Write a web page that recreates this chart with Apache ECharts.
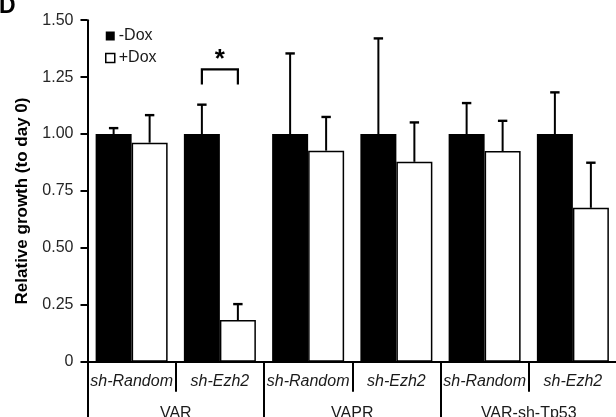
<!DOCTYPE html>
<html>
<head>
<meta charset="utf-8">
<script src="https://cdn.jsdelivr.net/npm/echarts@6/dist/echarts.min.js"></script>
<style>
html,body{margin:0;padding:0;background:#fff;}
#c{width:616px;height:417px;}
</style>
</head>
<body>
<div id="c"></div>
<script>
// ---- data ----
const subCategories = ['sh-Random', 'sh-Ezh2', 'sh-Random', 'sh-Ezh2', 'sh-Random', 'sh-Ezh2'];
const groupCategories = ['VAR', 'VAPR', 'VAR-sh-Tp53'];
const minusDoxMean = [1.00, 1.00, 1.00, 1.00, 1.00, 1.00];
const minusDoxErr  = [0.026, 0.129, 0.354, 0.420, 0.136, 0.183];
const plusDoxMean  = [0.962, 0.183, 0.927, 0.878, 0.925, 0.676];
const plusDoxErr   = [0.121, 0.070, 0.148, 0.173, 0.133, 0.198];
const yTicks = [0, 0.25, 0.5, 0.75, 1.0, 1.25, 1.5];
// significance bracket: category index, bracket top value, leg bottom value, star value
const significance = [[1, 1.284, 1.218, 1.325]];

const FONT = '"Liberation Sans", Arial, sans-serif';
const chart = echarts.init(document.getElementById('c'), null, {renderer: 'canvas'});

function errRender(offset) {
  return function (params, api) {
    const c = api.value(0), m = api.value(1), s = api.value(2);
    const p0 = api.coord([c, m]);
    const p1 = api.coord([c, m + s]);
    const x = p0[0] + offset;
    return {
      type: 'group',
      children: [
        {type: 'line', shape: {x1: x, y1: p0[1], x2: x, y2: p1[1]}, style: {stroke: '#000', lineWidth: 2}},
        {type: 'line', shape: {x1: x - 4.7, y1: p1[1], x2: x + 4.7, y2: p1[1]}, style: {stroke: '#000', lineWidth: 2.4}}
      ]
    };
  };
}

const option = {
  animation: false,
  backgroundColor: '#fff',
  grid: {left: 87.5, top: 20.2, width: 529.5, bottom: 55.3, containLabel: false, outerBoundsMode: 'none'},
  legend: {
    orient: 'vertical',
    left: 105, top: 28, padding: 0,
    itemWidth: 9, itemHeight: 9, itemGap: 6,
    icon: 'rect',
    textStyle: {fontFamily: FONT, fontSize: 16, color: '#1a1a1a', padding: [0, 0, 0, -1]},
    data: [
      {name: '-Dox', itemStyle: {color: '#000', borderColor: '#000', borderWidth: 0}},
      {name: '+Dox', itemStyle: {color: '#fff', borderColor: '#000', borderWidth: 1.5}}
    ]
  },
  xAxis: [
    {
      type: 'category', data: subCategories, position: 'bottom',
      axisLine: {show: true, lineStyle: {color: '#000', width: 2}},
      axisTick: {show: true, length: 30, interval: 0, lineStyle: {color: '#000', width: 2}},
      axisLabel: {interval: 0, margin: 12, fontFamily: FONT, fontSize: 16, fontStyle: 'italic', color: '#1a1a1a'}
    },
    {
      type: 'category', data: groupCategories, position: 'bottom',
      axisLine: {show: false},
      axisTick: {show: true, length: 60, interval: 0, lineStyle: {color: '#000', width: 2}},
      axisLabel: {interval: 0, margin: 44, fontFamily: FONT, fontSize: 16, color: '#1a1a1a'}
    }
  ],
  yAxis: {
    type: 'value', min: 0, max: 1.5, interval: 0.25,
    axisLine: {show: true, lineStyle: {color: '#000', width: 2}},
    axisTick: {show: true, length: 7, lineStyle: {color: '#000', width: 2}},
    splitLine: {show: false},
    axisLabel: {
      margin: 14, fontFamily: FONT, fontSize: 16, color: '#262626',
      formatter: v => (v === 0 ? '0' : v.toFixed(2))
    }
  },
  graphic: [
    {type: 'text', left: -1, top: -5, style: {text: 'D', font: 'bold 23px ' + FONT, fill: '#000'}},
    {type: 'text', x: 22.5, y: 201, rotation: Math.PI / 2,
     style: {text: 'Relative growth (to day 0)', font: 'bold 17px ' + FONT, fill: '#000', align: 'center', verticalAlign: 'middle'}}
  ],
  series: [
    {
      name: '-Dox', type: 'bar', data: minusDoxMean, barWidth: 36, barGap: '0%',
      itemStyle: {color: '#000', borderColor: '#000', borderWidth: 0}
    },
    {
      name: '+Dox', type: 'bar', data: plusDoxMean, barWidth: 36, barGap: '0%',
      itemStyle: {color: '#fff', borderColor: '#000', borderWidth: 1.5}
    },
    {
      type: 'custom', name: 'errMinus', renderItem: errRender(-18), z: 3,
      encode: {x: 0, y: 1},
      data: minusDoxMean.map((m, i) => [i, m, minusDoxErr[i]])
    },
    {
      type: 'custom', name: 'errPlus', renderItem: errRender(18), z: 3,
      encode: {x: 0, y: 1},
      data: plusDoxMean.map((m, i) => [i, m, plusDoxErr[i]])
    },
    {
      type: 'custom', name: 'sig', z: 4,
      encode: {x: 0, y: 1},
      data: significance,
      renderItem: function (params, api) {
        const c = api.value(0);
        const pt = api.coord([c, api.value(1)]);
        const pb = api.coord([c, api.value(2)]);
        const ps = api.coord([c, api.value(3)]);
        const xl = pt[0] - 18, xr = pt[0] + 18;
        return {
          type: 'group',
          children: [
            {type: 'polyline', shape: {points: [[xl, pb[1]], [xl, pt[1]], [xr, pt[1]], [xr, pb[1]]]},
             style: {stroke: '#000', lineWidth: 2.2, fill: null}},
            {type: 'text', x: pt[0], y: ps[1],
             style: {text: '*', font: 'bold 26px ' + FONT, fill: '#000', align: 'center', verticalAlign: 'middle'}}
          ]
        };
      }
    }
  ]
};
chart.setOption(option);
</script>
</body>
</html>
